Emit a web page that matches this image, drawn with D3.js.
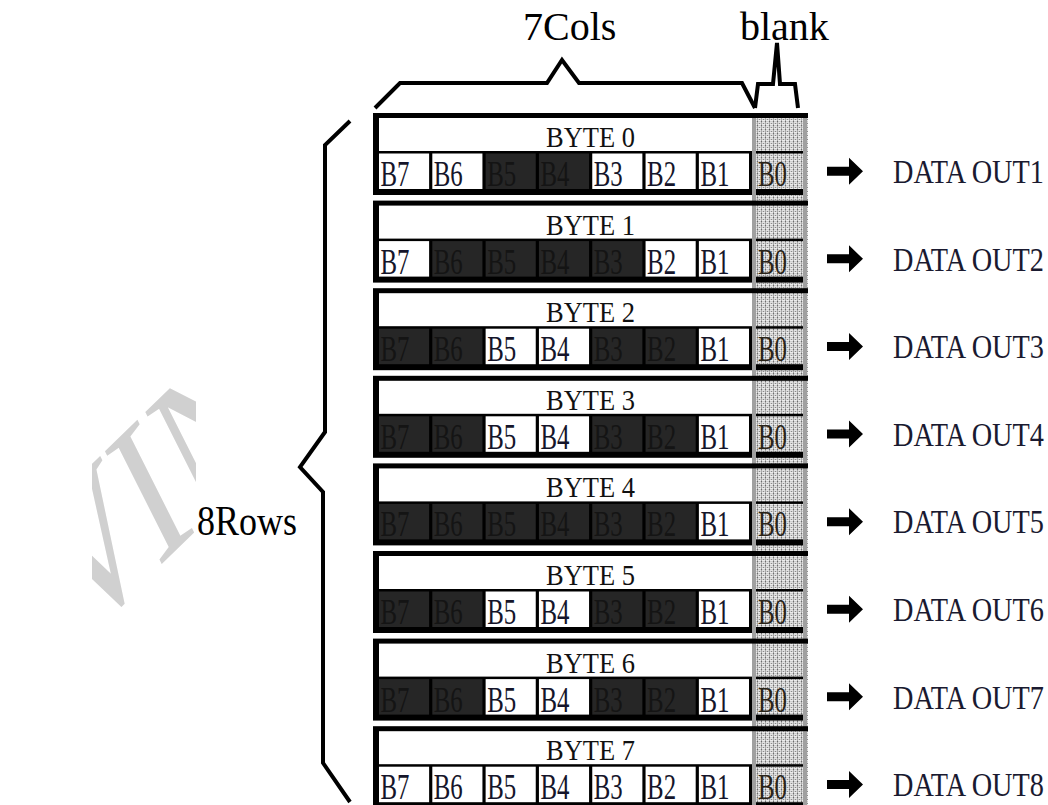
<!DOCTYPE html>
<html>
<head>
<meta charset="utf-8">
<script src="https://cdn.jsdelivr.net/npm/d3@7"></script>
<style>
  html, body { margin: 0; padding: 0; background: #fff; }
  svg { display: block; }
</style>
</head>
<body>
<script>
// ---------------- data ----------------
const rowLabels = ["BYTE 0", "BYTE 1", "BYTE 2", "BYTE 3", "BYTE 4", "BYTE 5", "BYTE 6", "BYTE 7"];
const bitLabels = ["B7", "B6", "B5", "B4", "B3", "B2", "B1"];
const blankLabel = "B0";
const outLabels = ["DATA OUT1", "DATA OUT2", "DATA OUT3", "DATA OUT4", "DATA OUT5", "DATA OUT6", "DATA OUT7", "DATA OUT8"];
// 1 = dark (lit) cell, columns B7..B1
const rowBits = [
  [0, 0, 1, 1, 0, 0, 0],
  [0, 1, 1, 1, 1, 0, 0],
  [1, 1, 0, 0, 1, 1, 0],
  [1, 1, 0, 0, 1, 1, 0],
  [1, 1, 1, 1, 1, 1, 0],
  [1, 1, 0, 0, 1, 1, 0],
  [1, 1, 0, 0, 1, 1, 0],
  [0, 0, 0, 0, 0, 0, 0]
];
const colTitle = "7Cols";
const blankTitle = "blank";
const rowTitle = "8Rows";
const watermark = "WINSTAR";

// ---------------- layout ----------------
const W = 1048, H = 805;
const serif = "'Liberation Serif', 'Times New Roman', serif";

const svg = d3.select("body").append("svg")
  .attr("width", W).attr("height", H)
  .attr("viewBox", `0 0 ${W} ${H}`);

svg.append("rect").attr("width", W).attr("height", H).attr("fill", "#fff");

// place a text at (x, y) and squeeze it horizontally to a given width
function fitText(sel, xFn, yFn, width, anchor) {
  sel.each(function (d, i) {
    const t = d3.select(this);
    const nat = this.getComputedTextLength() || width;
    const sx = Math.min(1, width / nat);
    const px = typeof xFn === "function" ? xFn(d, i) : xFn;
    const py = typeof yFn === "function" ? yFn(d, i) : yFn;
    t.attr("x", 0).attr("y", 0)
      .attr("text-anchor", anchor || "start")
      .attr("transform", `translate(${px},${py}) scale(${sx},1)`);
  });
}

const defs = svg.append("defs");
const pat = defs.append("pattern")
  .attr("id", "dots").attr("patternUnits", "userSpaceOnUse")
  .attr("width", 4).attr("height", 4);
pat.append("rect").attr("width", 4).attr("height", 4).attr("fill", "#cdcdcd");
pat.append("rect").attr("x", 0).attr("y", 0).attr("width", 4).attr("height", 1).attr("fill", "#ececec");
pat.append("rect").attr("x", 0).attr("y", 2).attr("width", 4).attr("height", 1).attr("fill", "#e2e2e2");
pat.append("rect").attr("x", 1).attr("y", 0).attr("width", 1).attr("height", 4).attr("fill", "#a8a8a8");
pat.append("rect").attr("x", 1).attr("y", 1).attr("width", 1).attr("height", 1).attr("fill", "#6a6a6a");
pat.append("rect").attr("x", 3).attr("y", 3).attr("width", 1).attr("height", 1).attr("fill", "#8a8a8a");

defs.append("clipPath").attr("id", "wmclip")
  .append("rect").attr("x", 92).attr("y", 0).attr("width", 104).attr("height", H);

// scales
const rowTop = 113, rowH = 82, rowStep = 87.6;
const y = d3.scaleBand()
  .domain(rowLabels)
  .range([rowTop, rowTop + 7 * rowStep + rowH])
  .paddingInner((rowStep - rowH) / rowStep)
  .paddingOuter(0);

const boxL = 373, inL = 379, inR = 749, headR = 752;
const x = d3.scaleBand()
  .domain(bitLabels)
  .range([inL, inR])
  .paddingInner(0.06)
  .paddingOuter(0);

const colL = 752, colR = 808;

// ---------------- watermark ----------------
const wm = svg.append("g").attr("clip-path", "url(#wmclip)");
wm.append("text")
  .attr("transform", "scale(0.72,1) translate(56,682) rotate(-35)")
  .attr("font-family", serif)
  .attr("font-size", 210)
  .attr("fill", "#d0d0d0")
  .text(watermark);

// ---------------- blank (B0) column background ----------------
const colTopY = y(rowLabels[0]);
svg.append("rect")
  .attr("x", colL).attr("y", colTopY)
  .attr("width", colR - colL).attr("height", H - colTopY)
  .attr("fill", "url(#dots)");
svg.append("rect")
  .attr("x", colL).attr("y", colTopY).attr("width", 4).attr("height", H - colTopY)
  .attr("fill", "#a0a0a0");
svg.append("rect")
  .attr("x", colR - 5).attr("y", colTopY).attr("width", 4).attr("height", H - colTopY)
  .attr("fill", "#a0a0a0");

// ---------------- rows ----------------
const rows = svg.selectAll("g.row")
  .data(rowLabels.map((lab, i) => ({ lab, i, bits: rowBits[i], out: outLabels[i] })))
  .join("g").attr("class", "row")
  .attr("transform", d => `translate(0,${y(d.lab)})`);

const bh = y.bandwidth();
const headTop = 5, headBot = 38, cellTop = 40.5, cellBot = 76;

// outer black box
rows.append("rect")
  .attr("x", boxL).attr("y", 0)
  .attr("width", headR - boxL).attr("height", bh)
  .attr("fill", "#000");
// top border continues over blank column
rows.append("rect")
  .attr("x", headR).attr("y", 0)
  .attr("width", colR - headR).attr("height", headTop)
  .attr("fill", "#000");
// header
rows.append("rect")
  .attr("x", inL).attr("y", headTop)
  .attr("width", headR - inL).attr("height", headBot - headTop)
  .attr("fill", "#fff");
// lines across blank column
rows.append("rect")
  .attr("x", colL + 4).attr("y", headBot)
  .attr("width", colR - colL - 9).attr("height", cellTop - headBot)
  .attr("fill", "#000");
rows.append("rect")
  .attr("x", colL + 4).attr("y", cellBot)
  .attr("width", colR - colL - 9).attr("height", bh - cellBot)
  .attr("fill", "#000");

// header text
rows.append("text")
  .attr("font-family", serif).attr("font-size", 30)
  .attr("fill", "#111")
  .text(d => d.lab)
  .call(fitText, (boxL + colR) / 2, 34, 89, "middle");

// cells
const cells = rows.selectAll("g.cell")
  .data(d => bitLabels.map((b, j) => ({ b, on: d.bits[j] })))
  .join("g").attr("class", "cell");
cells.append("rect")
  .attr("x", d => x(d.b)).attr("y", cellTop)
  .attr("width", x.bandwidth()).attr("height", cellBot - cellTop)
  .attr("fill", d => d.on ? "#262626" : "#fff");
cells.append("text")
  .attr("font-family", serif).attr("font-size", 35)
  .attr("fill", d => d.on ? "#141414" : "#15152a")
  .text(d => d.b)
  .call(fitText, d => x(d.b) + 1.5, 73, 29);

// B0 label
rows.append("text")
  .attr("font-family", serif).attr("font-size", 35)
  .attr("fill", "#2a2418")
  .text(blankLabel)
  .call(fitText, colL + 6, 73, 29);

// arrows
const ax0 = 827, ax1 = 849, ax2 = 863, amid = (cellTop + cellBot) / 2;
rows.append("path")
  .attr("d", `M${ax0},${amid - 4.5} L${ax1},${amid - 4.5} L${ax1},${amid - 13.5} L${ax2},${amid} L${ax1},${amid + 13.5} L${ax1},${amid + 4.5} L${ax0},${amid + 4.5} Z`)
  .attr("fill", "#000");

// output labels
rows.append("text")
  .attr("font-family", serif).attr("font-size", 34)
  .attr("fill", "#1a1a30")
  .text(d => d.out)
  .call(fitText, 893, 70, 151);

// ---------------- braces ----------------
const line = d3.line();
const braceStyle = sel => sel.attr("fill", "none").attr("stroke", "#000")
  .attr("stroke-width", 4).attr("stroke-linejoin", "miter");

svg.append("path")
  .attr("d", line([[375, 108], [400, 83], [547, 83], [562, 60], [579, 83], [742, 83], [755, 108]]))
  .call(braceStyle);
svg.append("path")
  .attr("d", line([[755, 108], [758, 84], [773, 84], [777, 43], [780, 84], [795, 84], [798, 108]]))
  .call(braceStyle);
svg.append("path")
  .attr("d", line([[350, 121], [325, 145], [325, 432], [300, 467], [323, 492], [323, 763], [350, 802]]))
  .call(braceStyle);

// titles
svg.append("text")
  .attr("font-family", serif).attr("font-size", 40)
  .attr("fill", "#000")
  .text(colTitle)
  .call(fitText, 523, 40, 95);
svg.append("text")
  .attr("font-family", serif).attr("font-size", 40)
  .attr("fill", "#000")
  .text(blankTitle)
  .call(fitText, 740, 40, 96);
svg.append("text")
  .attr("font-family", serif).attr("font-size", 42)
  .attr("fill", "#000")
  .text(rowTitle)
  .call(fitText, 197, 535, 100);
</script>
</body>
</html>
